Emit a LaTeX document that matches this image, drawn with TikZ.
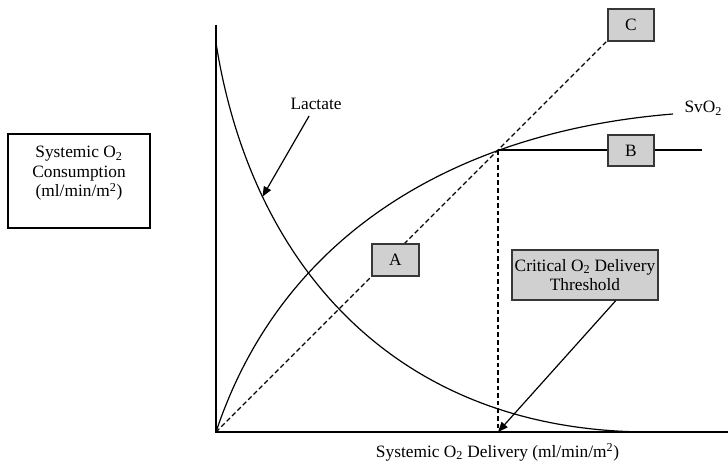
\documentclass[tikz,border=0pt]{standalone}
\usepackage{fontspec}
\setmainfont{Liberation Serif}
\usetikzlibrary{arrows.meta}

\tikzset{every picture/.style={line width=0.75pt}}
\tikzset{
  greybox/.style={draw={rgb, 255:red, 55; green, 55; blue, 55 }, fill={rgb, 255:red, 208; green, 208; blue, 208 }, line width=1.1pt, inner sep=0pt},
  dashline/.style={dash pattern={on 3.5pt off 2.2pt}, line width=0.9pt},
  pointer/.style={-{Triangle[length=7.5pt,width=6pt]}, line width=0.9pt},
}

\begin{document}
\begin{tikzpicture}[x=0.75pt,y=0.75pt,yscale=-1,xscale=1,font=\fontsize{13}{14.6}\selectfont]
\path[use as bounding box] (0,0) rectangle (728,467);

%Coordinates
\coordinate (orig) at (216,432);
\coordinate (ytop) at (216,25);
\coordinate (xend) at (728,432);
\coordinate (knee) at (498,150);
\coordinate (kneefoot) at (498,432);
\coordinate (bend) at (702,150);

%Shape: Boxes
\node (consbox) [draw, line width=1pt, minimum width=106.5pt, minimum height=70.5pt] at (79,181) {};
\node (constext) [align=center, anchor=north, inner sep=0pt] at (79,146) {Systemic O\textsubscript{2}\\Consumption\\(ml/min/m\textsuperscript{2})};

%Curves: SvO2 and Lactate
\draw [line width=0.9pt] (orig) .. controls (286,222) and (473,130) .. (673,114) ;
\draw [line width=0.9pt] (216,43) .. controls (252,270) and (400,432) .. (650,432) coordinate[pos=0.245] (lacpt) ;

%Straight Lines: dashed
\draw [dashline] (orig) -- (608,40) coordinate (cfoot) ;
\draw [dashline] (knee) -- (kneefoot) ;

%Axes
\draw [line width=1pt] (ytop) -- (orig) -- (xend) ;

%Line through B
\draw [line width=0.9pt] (knee) -- (bend) ;

%Grey boxes
\node (boxA) [greybox, minimum width=35.25pt, minimum height=24pt] at (395.5,260) {A};
\node (boxB) [greybox, minimum width=34.5pt, minimum height=23.25pt] at (631,150.5) {B};
\node (boxC) [greybox, minimum width=34.5pt, minimum height=24pt] at (631,25) {C};
\node (boxCrit) [greybox, align=center, minimum width=109.5pt, minimum height=37.5pt] at (585,275) {Critical O\textsubscript{2} Delivery\\Threshold};

% Text Node
\node (laclabel) [inner sep=0.75pt] at (316,104) {Lactate};
% Text Node
\node (svolabel) [anchor=west, inner sep=0.75pt] at (683,108) {SvO\textsubscript{2}};
% Text Node
\node (xlabel) [inner sep=0.75pt] at (497.5,452) {Systemic O\textsubscript{2} Delivery (ml/min/m\textsuperscript{2})};

%Arrows
\draw [pointer, shorten <=4pt] (laclabel) -- (lacpt) ;
\draw [pointer] (boxCrit.-40) -- (kneefoot) ;

\end{tikzpicture}
\end{document}
